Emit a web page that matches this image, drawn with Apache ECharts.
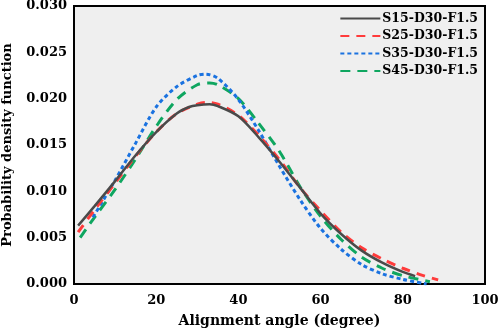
<!DOCTYPE html>
<html>
<head>
<meta charset="utf-8">
<script src="https://cdn.jsdelivr.net/npm/echarts@6/dist/echarts.min.js"></script>
<style>
  html, body { margin: 0; padding: 0; background: #fff; }
  #chart { width: 498px; height: 329px; }
</style>
</head>
<body>
<div id="chart"></div>
<script>
// alignment angle (degree) and pdf values (x 0.001)
const s15X = [1, 5, 10, 15, 20, 25, 28, 30, 33, 35, 40, 45, 50, 55, 60, 65, 70, 75, 80, 83]
const s15Y = [6.3, 8.4, 11.1, 13.9, 16.4, 18.4, 19.1, 19.3, 19.4, 19.2, 18.1, 15.8, 13.2, 10.4, 7.6, 5.4, 3.6, 2.3, 1.3, 0.85]

const s25X = [1, 5, 10, 15, 20, 25, 30, 32, 35, 40, 45, 50, 55, 60, 65, 70, 75, 80, 85, 88.6]
const s25Y = [5.6, 8.0, 10.9, 13.8, 16.4, 18.4, 19.4, 19.6, 19.4, 18.2, 16.0, 13.4, 10.4, 7.9, 5.6, 3.9, 2.7, 1.7, 0.9, 0.45]

const s35X = [4.6, 10, 15, 20, 25, 30, 32, 35, 40, 45, 50, 55, 60, 65, 70, 75, 80, 85.8]
const s35Y = [7.2, 11.2, 15.2, 19.1, 21.3, 22.5, 22.65, 22.2, 19.9, 16.5, 12.7, 9.1, 6.0, 3.75, 2.1, 1.1, 0.5, 0.0]

const s45X = [1.5, 5, 10, 15, 20, 25, 30, 33, 35, 40, 45, 50, 55, 60, 65, 70, 75, 80, 86.6]
const s45Y = [5.0, 7.2, 10.2, 13.5, 17.0, 19.9, 21.5, 21.7, 21.5, 20.0, 17.3, 14.3, 10.5, 7.3, 4.8, 2.9, 1.7, 0.9, 0.25]

const seriesNames = ['S15-D30-F1.5', 'S25-D30-F1.5', 'S35-D30-F1.5', 'S45-D30-F1.5']

function pairs (xs, ys) {
  return xs.map((x, i) => [x, ys[i] / 1000])
}

const font = '"DejaVu Serif", "Liberation Serif", serif'

const options = {
  animation: false,
  textStyle: { fontFamily: font },
  grid: {
    show: true,
    left: 74,
    right: 13,
    top: 6,
    bottom: 45,
    outerBoundsMode: 'none',
    containLabel: false,
    backgroundColor: '#efefef',
    borderColor: '#000',
    borderWidth: 2
  },
  legend: {
    data: seriesNames,
    orient: 'vertical',
    right: 15,
    top: 7,
    itemWidth: 40,
    itemHeight: 14,
    itemGap: 4.5,
    itemStyle: { opacity: 0 },
    textStyle: {
      fontFamily: font,
      fontWeight: 'bold',
      fontSize: 12.5,
      color: '#000',
      padding: [0, 0, 0, -3]
    }
  },
  xAxis: {
    type: 'value',
    min: 0,
    max: 100,
    interval: 20,
    name: 'Alignment angle (degree)',
    nameLocation: 'middle',
    nameGap: 30,
    nameTextStyle: { fontFamily: font, fontWeight: 'bold', fontSize: 14, color: '#000' },
    axisLine: { show: false },
    axisTick: { show: false },
    splitLine: { show: false },
    axisLabel: { fontFamily: font, fontWeight: 'bold', fontSize: 13, color: '#000', margin: 10 }
  },
  yAxis: {
    type: 'value',
    min: 0,
    max: 0.03,
    interval: 0.005,
    name: 'Probability density function',
    nameLocation: 'middle',
    nameGap: 60,
    nameTextStyle: { fontFamily: font, fontWeight: 'bold', fontSize: 13, color: '#000' },
    axisLine: { show: false },
    axisTick: { show: false },
    splitLine: { show: false },
    axisLabel: {
      fontFamily: font,
      fontWeight: 'bold',
      fontSize: 13,
      color: '#000',
      margin: 7,
      formatter: v => v.toFixed(3)
    }
  },
  series: [
    {
      name: seriesNames[0],
      type: 'line',
      smooth: 0.3,
      showSymbol: false,
      symbol: 'none',
      data: pairs(s15X, s15Y),
      lineStyle: { color: '#4a4a4a', width: 2.5, type: 'solid' },
      itemStyle: { color: '#4a4a4a' },
      z: 5
    },
    {
      name: seriesNames[1],
      type: 'line',
      smooth: 0.3,
      showSymbol: false,
      symbol: 'none',
      data: pairs(s25X, s25Y),
      lineStyle: { color: '#ff3b3b', width: 3, type: [9, 7] },
      itemStyle: { color: '#ff3b3b' },
      z: 4
    },
    {
      name: seriesNames[2],
      type: 'line',
      smooth: 0.3,
      showSymbol: false,
      symbol: 'none',
      data: pairs(s35X, s35Y),
      lineStyle: { color: '#1a72e0', width: 3, type: [4, 3] },
      itemStyle: { color: '#1a72e0' },
      z: 3
    },
    {
      name: seriesNames[3],
      type: 'line',
      smooth: 0.3,
      showSymbol: false,
      symbol: 'none',
      data: pairs(s45X, s45Y),
      lineStyle: { color: '#0fa660', width: 3, type: [10, 7] },
      itemStyle: { color: '#0fa660' },
      z: 2
    }
  ]
}

const chart = echarts.init(document.getElementById('chart'))
chart.setOption(options, true)
window.addEventListener('resize', () => {
  setTimeout(function () {
    chart.resize()
  }, 100)
})
</script>
</body>
</html>
